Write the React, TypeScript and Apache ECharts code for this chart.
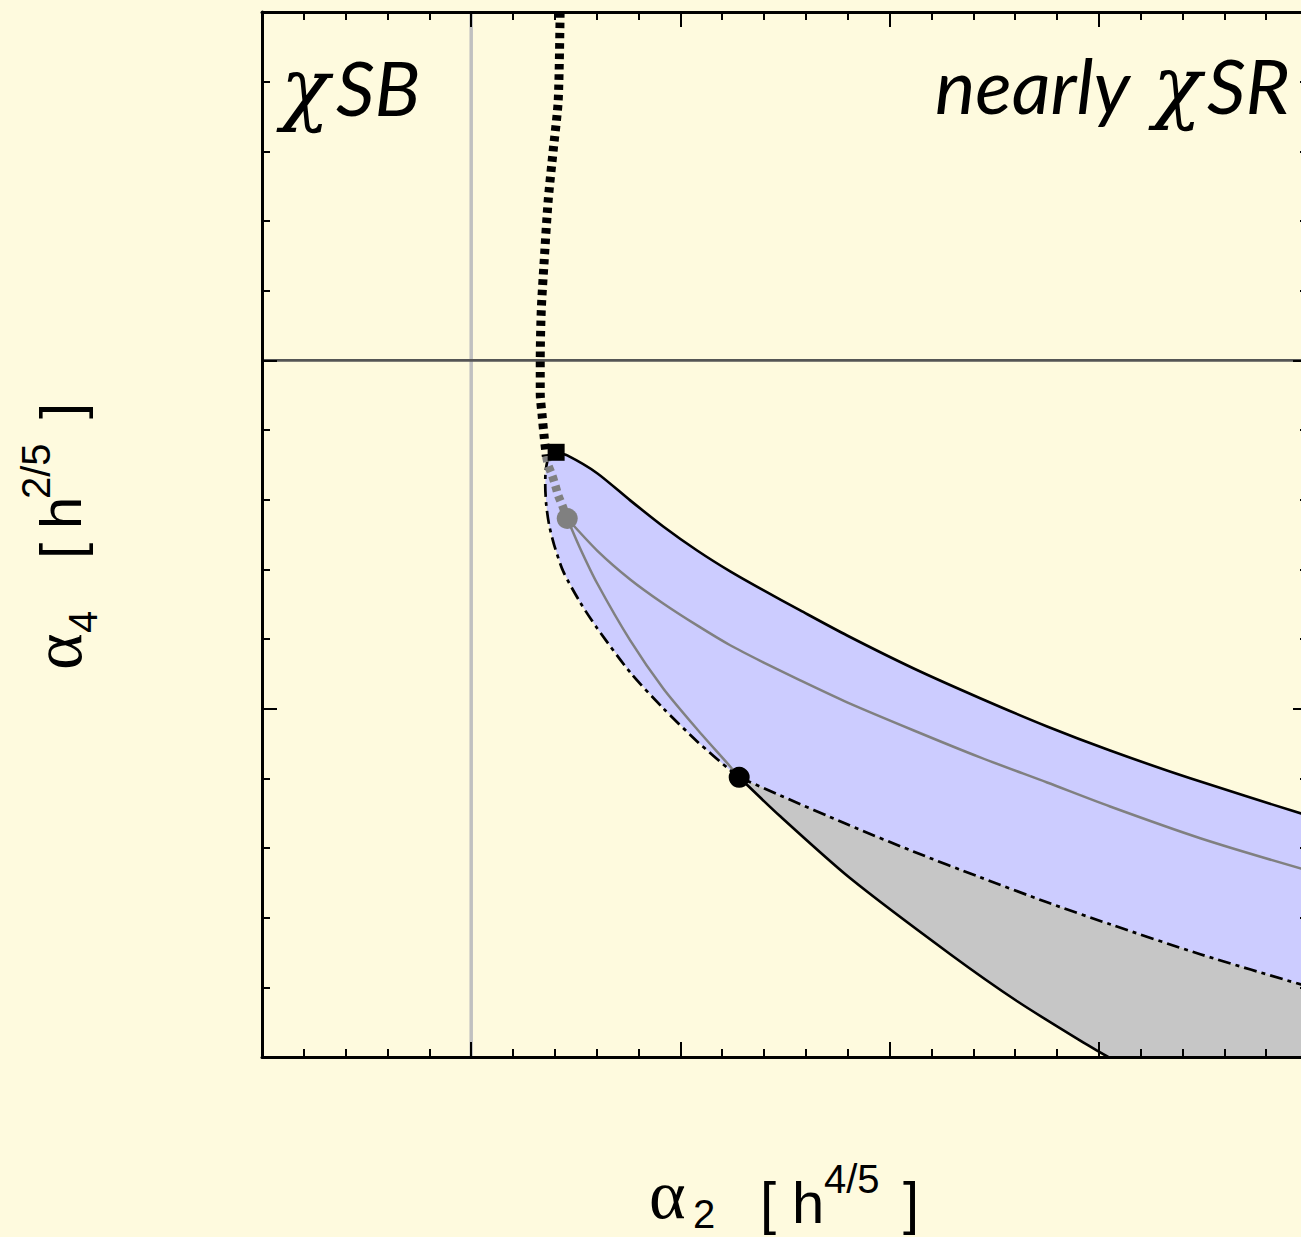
import React, { useEffect, useRef } from "react";
import * as echarts from "echarts";

// ---- data (axis units: alpha2 horizontal, alpha4 vertical) ----
const xRange = [-1, 4];
const yRange = [-2, 1];
const xZeroLine = [[0, -2], [0, 1]];
const yZeroLine = [[-1, 0], [4, 0]];

// thick dotted curve, black part (above the square)
const dottedBlack = [[0.425, 0.999], [0.416, 0.746], [0.392, 0.603], [0.368, 0.459], [0.349, 0.287], [0.335, 0.144], [0.33, 0.0], [0.33, -0.095], [0.339, -0.158], [0.349, -0.221], [0.359, -0.276]];
// thick dotted curve, gray part (square to gray dot)
const dottedGray = [[0.359, -0.276], [0.368, -0.301], [0.387, -0.33], [0.402, -0.359], [0.416, -0.388], [0.435, -0.416], [0.459, -0.454]];
// upper solid boundary of the blue band
const upperEdge = [[0.406, -0.264], [0.459, -0.273], [0.602, -0.324], [0.76, -0.402], [0.918, -0.477], [1.08, -0.546], [1.238, -0.606], [1.396, -0.66], [1.573, -0.718], [1.797, -0.79], [2.113, -0.884], [2.433, -0.97], [2.753, -1.051], [3.054, -1.12], [3.437, -1.2], [3.967, -1.301], [4.0, -1.306]];
// dash-dot boundary: square -> black dot
const dashDotA = [[0.368, -0.278], [0.356, -0.316], [0.354, -0.359], [0.359, -0.416], [0.373, -0.474], [0.397, -0.531], [0.44, -0.606], [0.521, -0.695], [0.602, -0.769], [0.76, -0.896], [0.918, -0.999], [1.08, -1.094], [1.238, -1.177], [1.281, -1.197]];
// dash-dot boundary: black dot -> right edge
const dashDotB = [[1.281, -1.197], [1.477, -1.249], [1.797, -1.332], [2.113, -1.41], [2.433, -1.484], [2.753, -1.556], [3.054, -1.619], [3.485, -1.705], [3.967, -1.792], [4.0, -1.797]];
// gray curve from gray dot, upper branch
const grayUpper = [[0.459, -0.454], [0.602, -0.546], [0.76, -0.629], [0.918, -0.698], [1.08, -0.761], [1.238, -0.818], [1.396, -0.867], [1.573, -0.919], [1.797, -0.982], [2.113, -1.062], [2.433, -1.14], [2.753, -1.212], [3.054, -1.281], [3.485, -1.372], [3.967, -1.459], [4.0, -1.461]];
// gray curve from gray dot, lower branch to black dot
const grayLower = [[0.459, -0.454], [0.521, -0.54], [0.602, -0.64], [0.76, -0.804], [0.918, -0.942], [1.08, -1.059], [1.238, -1.166], [1.281, -1.197]];
// lower solid boundary of the gray region
const lowerEdge = [[1.281, -1.197], [1.477, -1.309], [1.812, -1.487], [2.29, -1.705], [2.61, -1.84], [2.925, -1.958], [3.045, -2.0]];
const gridCorner = [[4.0, -2.0]];

const squarePoint = [[0.406, -0.264]];
const grayPoint = [[0.459, -0.454]];
const blackPoint = [[1.281, -1.197]];

// ---- styles ----
const BG = "#FEFADE";
const BLUE = "#CCCCFF";
const GRAYFILL = "#C6C6C6";
const GRAYLINE = "#808080";

const dashDot = dashDotA.concat(dashDotB.slice(1));
const bluePoly = upperEdge.concat(dashDot.slice().reverse());
const grayPoly = lowerEdge.concat(gridCorner, dashDotB.slice().reverse());

function polySeries(points: number[][], fill: string) {
  return {
    type: "custom",
    coordinateSystem: "cartesian2d",
    silent: true,
    z: 1,
    data: [[0, 0]],
    renderItem: (_p: any, api: any) => ({
      type: "polygon",
      shape: { points: points.map((p) => api.coord(p)), smooth: 0 },
      style: { fill, stroke: "none" },
    }),
  };
}

function lineSeries(data: number[][], color: string, width: number, type: any, z = 3, smooth: any = 0.25) {
  return {
    type: "line",
    data,
    symbol: "none",
    showSymbol: false,
    smooth,
    silent: true,
    z,
    lineStyle: { color, width, type, cap: "butt", join: "round" },
  };
}

function axis(kind: "x" | "y", position: string) {
  const r = kind === "x" ? xRange : yRange;
  return {
    type: "value",
    position,
    min: r[0],
    max: r[1],
    interval: 1,
    z: 10,
    axisLine: { show: true, onZero: false, lineStyle: { color: "#000", width: 3 } },
    axisTick: { show: true, inside: true, length: 15, lineStyle: { color: "#000", width: 2 } },
    minorTick: { show: true, splitNumber: 5, length: 8, lineStyle: { color: "#000", width: 2 } },
    axisLabel: { show: false },
    splitLine: { show: false },
    minorSplitLine: { show: false },
  };
}

function txt(text: string, x: number, y: number, font: string, align = "left") {
  return {
    type: "text",
    x,
    y,
    silent: true,
    style: {
      text,
      font,
      fill: "#000",
      align,
      textAlign: align,
      verticalAlign: "middle",
      textVerticalAlign: "middle",
    },
  };
}

const SANS = '"Liberation Sans"';
const SERIF = '"Liberation Serif"';
const CHI = '"DejaVu Serif"';
const HUM = "Lato";

const option: any = {
  animation: false,
  backgroundColor: BG,
  grid: { left: 262, top: 12, right: 12, bottom: 180, containLabel: false },
  xAxis: [axis("x", "bottom"), axis("x", "top")],
  yAxis: [axis("y", "left"), axis("y", "right")],
  series: [
    polySeries(bluePoly, BLUE),
    polySeries(grayPoly, GRAYFILL),
    lineSeries(xZeroLine, "#C0C0C0", 3.5, "solid", 2, false),
    lineSeries(yZeroLine, "#555555", 2.8, "solid", 2, false),
    lineSeries(grayUpper, GRAYLINE, 2.5, "solid"),
    lineSeries(grayLower, GRAYLINE, 2.5, "solid"),
    lineSeries(upperEdge, "#000", 2.6, "solid"),
    lineSeries(lowerEdge, "#000", 2.6, "solid"),
    lineSeries(dashDotA, "#000", 2.7, [13, 5, 4, 5]),
    lineSeries(dashDotB, "#000", 2.7, [13, 5, 4, 5]),
    lineSeries(dottedBlack, "#000", 9, [5.5, 4.8], 4),
    lineSeries(dottedGray, GRAYLINE, 8.5, [5.5, 4.8], 4),
    { type: "scatter", data: squarePoint, symbol: "rect", symbolSize: 17, itemStyle: { color: "#000", opacity: 1 }, z: 5, silent: true },
    { type: "scatter", data: grayPoint, symbol: "circle", symbolSize: 21, itemStyle: { color: GRAYLINE, opacity: 1 }, z: 5, silent: true },
    { type: "scatter", data: blackPoint, symbol: "circle", symbolSize: 21, itemStyle: { color: "#000", opacity: 1 }, z: 5, silent: true },
  ],
  graphic: [
    txt("χ", 281, 87, `italic 80px ${CHI}`),
    txt("SB", 336, 86, `italic 76px ${HUM}`),
    txt("nearly", 935, 84, `italic 76px ${HUM}`),
    txt("χ", 1153, 85, `italic 80px ${CHI}`),
    txt("SR", 1207, 84, `italic 76px ${HUM}`),
    // x-axis title
    txt("α", 649, 1194, `70px ${SERIF}`),
    txt("2", 693, 1214, `40px ${SANS}`),
    txt("[", 760, 1202, `58px ${SANS}`),
    txt("h", 792, 1202, `58px ${SANS}`),
    txt("4/5", 824, 1179, `40px ${SANS}`),
    txt("]", 903, 1202, `58px ${SANS}`),
    // y-axis title (rotated)
    {
      type: "group",
      x: 0,
      y: 680,
      rotation: Math.PI / 2,
      children: [
        txt("α", 10, 57, `70px ${SERIF}`),
        txt("4", 47, 83, `40px ${SANS}`),
        txt("[", 121, 60, `58px ${SANS}`),
        txt("h", 151, 60, `58px ${SANS}`),
        txt("2/5", 181, 36, `40px ${SANS}`),
        txt("]", 261, 60, `58px ${SANS}`),
      ],
    },
  ],
};

export default function App() {
  const ref = useRef<HTMLDivElement>(null);
  useEffect(() => {
    const chart = echarts.init(ref.current!, null, { renderer: "svg" });
    chart.setOption(option);
    return () => chart.dispose();
  }, []);
  return (
    <div style={{ position: "absolute", left: 0, top: 0, width: 1301, height: 1237, overflow: "hidden", background: BG }}>
      <div ref={ref} style={{ width: 1320, height: 1237 }} />
    </div>
  );
}
